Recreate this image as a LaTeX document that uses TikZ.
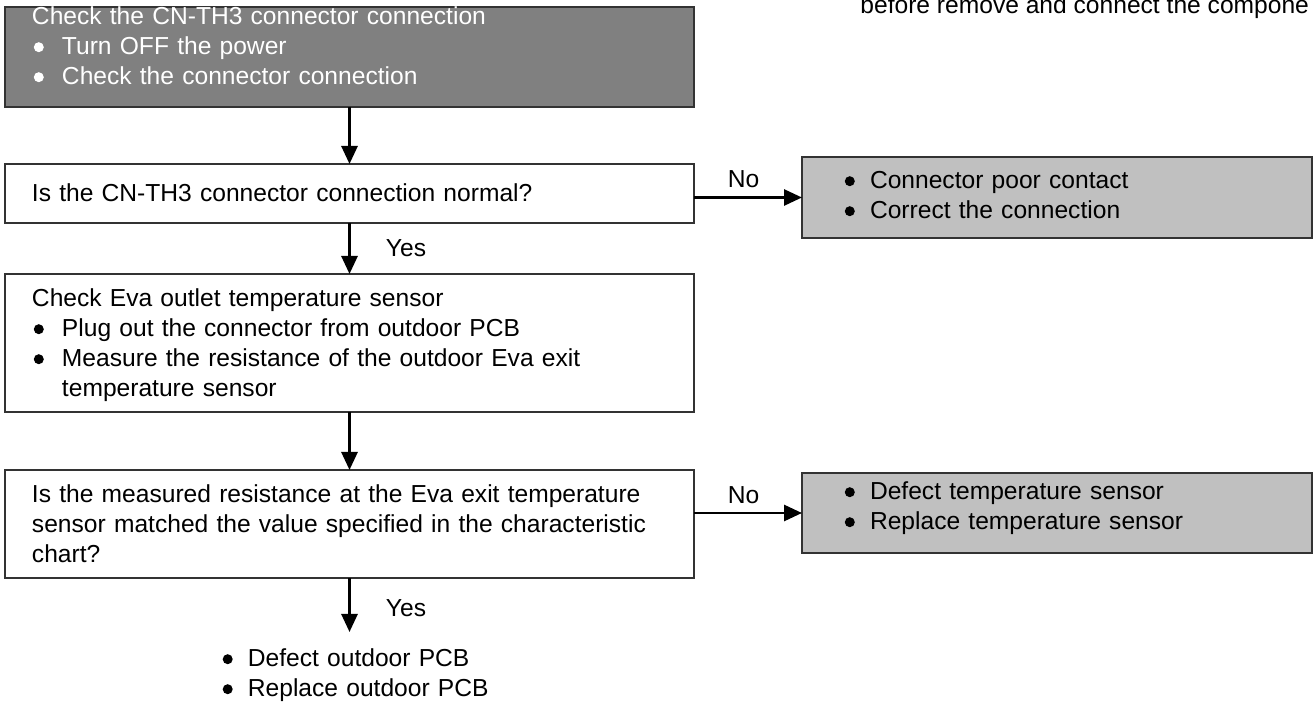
\documentclass[tikz,border=0pt]{standalone}
\usepackage{fontspec}
\setmainfont{Liberation Sans}
\usetikzlibrary{positioning,arrows.meta}
\definecolor{boxDark}{HTML}{808080}
\definecolor{boxLight}{HTML}{C0C0C0}
\definecolor{boxLine}{HTML}{333333}
\newcommand{\bul}[1][15pt]{\makebox[#1][l]{\tikz[baseline=0pt]{\path (0,0); \fill (3.4pt,3.9pt) circle (2.5pt);}}}

\begin{document}
\begin{tikzpicture}[font=\fontsize{12.3pt}{15pt}\selectfont,
        flowbox/.style={draw=boxLine, line width=1.2pt, outer sep=0pt, inner ysep=0pt, inner xsep=13.5pt, text width=317.5pt, align=left},
        startbox/.style={flowbox, fill=boxDark, text=white},
        resultbox/.style={flowbox, fill=boxLight, inner xsep=20.5pt, text width=214pt},
        arr/.style={-{Triangle[length=9pt,width=8pt]}, line width=1.4pt},
        lbl/.style={inner sep=0pt}]
        \useasboundingbox (0,0) rectangle (656.5pt,-352.5pt);
        \node[startbox, anchor=north west, text height=9pt, text depth=41pt] (Check) at (2.5pt,-3.5pt) {Check the CN-TH3 connector connection\\ \bul Turn OFF the power\\ \bul Check the connector connection};
        \node[flowbox, text height=19pt, text depth=10.5pt] (Ask) [below=28.5pt of Check] {Is the CN-TH3 connector connection normal?};
        \node[flowbox, text height=16.5pt, text depth=52.5pt] (Measure) [below=25.5pt of Ask] {Check Eva outlet temperature sensor\\ \bul Plug out the connector from outdoor PCB\\ \bul Measure the resistance of the outdoor Eva exit\\ \hspace*{15pt}temperature sensor};
        \node[flowbox, text height=16.5pt, text depth=37.5pt] (Match) [below=29pt of Measure] {Is the measured resistance at the Eva exit temperature\\ sensor matched the value specified in the characteristic\\ chart?};
        \node[resultbox, text height=16pt, text depth=24.5pt, yshift=-2pt] (Contact) [right=54pt of Ask] {\bul[13.5pt]Connector poor contact\\ \bul[13.5pt]Correct the connection};
        \node[resultbox, text height=13.5pt, text depth=26.5pt, yshift=5.5pt] (Sensor) [right=54pt of Match] {\bul[13.5pt]Defect temperature sensor\\ \bul[13.5pt]Replace temperature sensor};
        \coordinate[below=27pt of Match] (PcbEnd);
        \node[lbl, text width=200pt, align=left, anchor=base west, xshift=-64.5pt, yshift=-17.5pt] (Pcb) at (PcbEnd) {\bul[13.5pt]Defect outdoor PCB\\ \bul[13.5pt]Replace outdoor PCB};
        \node[lbl, anchor=base west] (Hint) at (430pt,-7pt) {before remove and connect the compone};

        \draw[arr] (Check) -- (Ask);
        \draw[arr] (Ask) -- node[lbl, right=17.5pt] {Yes} (Measure);
        \draw[arr] (Measure) -- (Match);
        \draw[arr] (Match) -- node[lbl, right=17.5pt, pos=0.56] {Yes} (PcbEnd);
        \draw[arr] (Ask.east |- Contact.west) -- node[lbl, above=4pt, pos=0.46] {No} (Contact.west);
        \draw[arr] (Match.east |- Sensor.west) -- node[lbl, above=4pt, pos=0.46] {No} (Sensor.west);
    \end{tikzpicture}
\end{document}
